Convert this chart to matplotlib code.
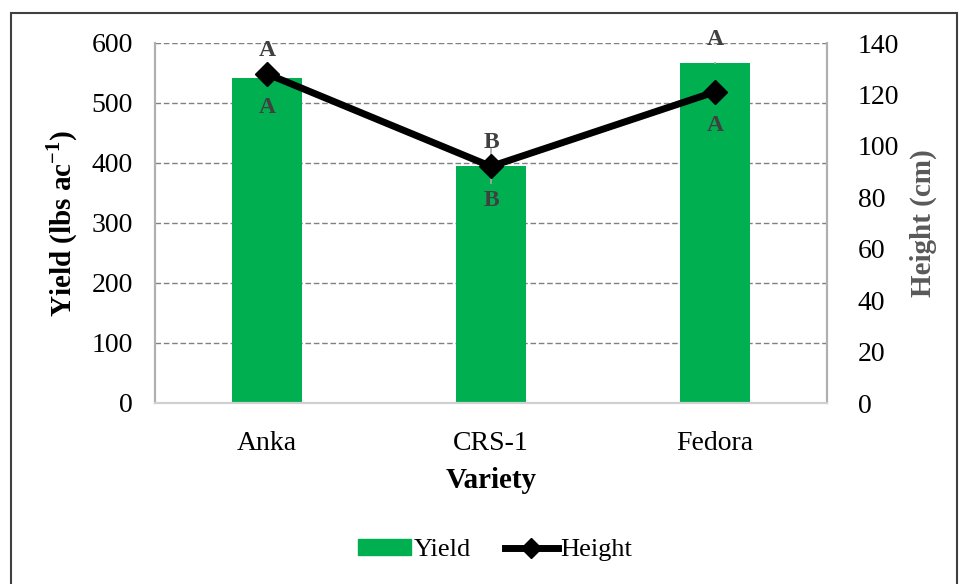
import matplotlib.pyplot as plt
from matplotlib.patches import Rectangle
from matplotlib.lines import Line2D

varieties = ["Anka", "CRS-1", "Fedora"]
yield_vals = [542, 395, 567]
yield_err = [11, 30, 2]
height_vals = [128, 92, 121]
yield_letters = ["A", "B", "A"]
height_letters = ["A", "B", "A"]

plt.rcParams['font.family'] = ['Liberation Serif', 'DejaVu Serif']
plt.rcParams['mathtext.fontset'] = 'custom'
plt.rcParams['mathtext.rm'] = 'Liberation Serif'
plt.rcParams['mathtext.bf'] = 'Liberation Serif:bold'

fig = plt.figure(figsize=(9.6, 5.84), dpi=100)
ax = fig.add_axes([155/960, 1-403/584, 672/960, 360/584])
ax2 = ax.twinx()

x = list(range(len(varieties)))
ax.bar(x, yield_vals, width=0.31, color="#00b050", zorder=2)
ax.errorbar(x, yield_vals, yerr=yield_err, fmt="none", ecolor="#a6a6a6",
            elinewidth=1.2, capsize=0, zorder=3)
ax.set_xlim(-0.5, 2.5)
ax.set_ylim(0, 600)
ax.set_yticks(range(0, 601, 100))
ax.yaxis.grid(True, linestyle=(0, (4, 2)), color="#808080", linewidth=1)
ax.set_axisbelow(True)
ax.set_xticks(x)
ax.set_xticklabels(varieties)
ax.tick_params(axis="both", length=0, labelsize=20)
ax.tick_params(axis="x", pad=20)
ax.tick_params(axis="y", pad=16)
ax.set_xlabel("Variety", fontsize=21, fontweight="bold", labelpad=8)
ax.set_ylabel("Yield (lbs ac$^{\\mathbf{-1}}$)", fontsize=21, fontweight="bold", labelpad=8)

ax2.plot(x, height_vals, color="black", linewidth=5, marker="D", markersize=12, zorder=4)
ax2.set_ylim(0, 140)
ax2.set_yticks(range(0, 141, 20))
ax2.tick_params(axis="y", length=0, labelsize=20, pad=22)
ax2.set_ylabel("Height (cm)", fontsize=21, fontweight="bold", color="#595959", labelpad=8)

for a in (ax, ax2):
    a.spines["top"].set_visible(False)
    a.spines["left"].set_color("#b0b0b0")
    a.spines["right"].set_color("#b0b0b0")
    a.spines["bottom"].set_color("#d0d0d0")
    a.spines["left"].set_linewidth(1.5)
    a.spines["right"].set_linewidth(1.5)
    a.spines["bottom"].set_linewidth(1.5)

# yield letters above the higher of bar/marker, height letters below markers
for i in x:
    bar_px = ax.transData.transform((i, yield_vals[i]))[1]
    mk_px = ax2.transData.transform((i, height_vals[i]))[1]
    top_y = ax.transData.inverted().transform((0, max(bar_px, mk_px)))[1]
    ax.annotate(yield_letters[i], (i, top_y), xytext=(0, 9),
                textcoords="offset points", ha="center", va="bottom",
                fontsize=17, fontweight="bold", color="#404040", zorder=5)
    ax2.annotate(height_letters[i], (i, height_vals[i]), xytext=(0, -17),
                 textcoords="offset points", ha="center", va="top",
                 fontsize=17, fontweight="bold", color="#404040", zorder=5)

handles = [Rectangle((0, 0), 1, 1, color="#00b050"),
           Line2D([], [], color="black", linewidth=5, marker="D", markersize=10)]
fig.legend(handles, ["Yield", "Height"], loc="center", bbox_to_anchor=(495/960, 1-550/584),
           ncol=2, frameon=False, fontsize=19, handlelength=2.0, handleheight=0.55,
           columnspacing=1.3, handletextpad=0.1)

fig.add_artist(Rectangle((11/960, -0.01), 946/960, 1-13/584+0.01, transform=fig.transFigure,
                         fill=False, edgecolor="#404040", linewidth=1.5))

fig.savefig("out.png", dpi=100)
